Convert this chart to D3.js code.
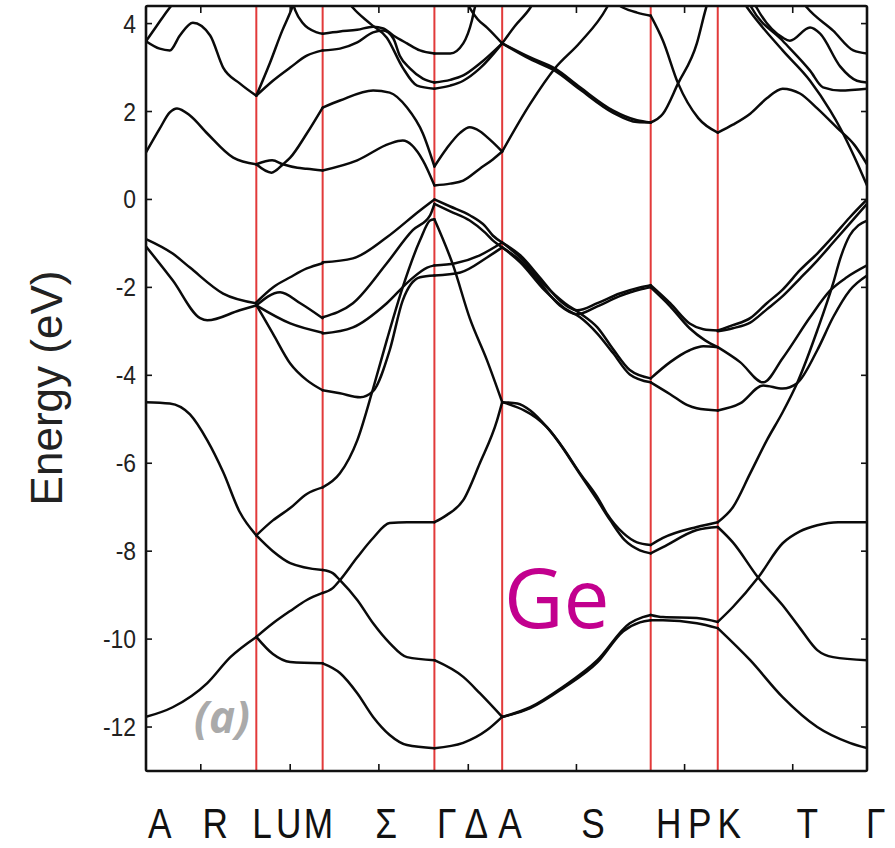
<!DOCTYPE html>
<html><head><meta charset="utf-8">
<script src="https://cdn.jsdelivr.net/npm/d3@7"></script>
<style>body{margin:0;background:#fff}svg{display:block}</style>
</head><body>
<script>
// high-symmetry path (k in path units 0..100)
const redK = [15.3, 24.5, 40.0, 49.4, 70.0, 79.3];          // L M Γ A H K
const tickK = [7.6, 20.0, 32.3, 44.7, 59.7, 74.7, 89.7];      // R U Σ Δ S P T
const pathLabels = ["A","R","L","U","M","Σ","Γ","Δ","A","S","H","P","K","T","Γ"];
const labelK = [1.9, 9.6, 16.1, 19.8, 23.9, 33.3, 41.7, 45.8, 50.5, 62.0, 72.5, 76.8, 80.9, 91.7, 101.2];
const yTicks = [-12,-10,-8,-6,-4,-2,0,2,4];

// bands, segment by segment: [k, E(eV)]
const segAL = [
  [[0,3.6],[1.5,3.95],[3,4.3],[4.5,4.6]],
  [[0,3.6],[1.9,3.43],[3.3,3.39],[4.7,3.73],[6.5,4.02],[8.9,3.73],[10.7,3.0],[13.0,2.64],[15.3,2.36]],
  [[0,1.07],[1.9,1.61],[3.3,1.98],[4.3,2.07],[6.1,1.91],[8.5,1.5],[12.1,0.95],[15.3,0.8]],
  [[0,-0.9],[3.7,-1.23],[6.1,-1.55],[10.7,-2.14],[15.3,-2.36]],
  [[0,-1.07],[3.7,-1.84],[7.5,-2.7],[8.5,-2.75],[13.0,-2.52],[15.3,-2.41]],
  [[0,-4.61],[3.3,-4.64],[6.1,-4.89],[8.5,-5.48],[10.7,-6.2],[13.0,-7.11],[15.3,-7.64]],
  [[0,-11.77],[3.7,-11.55],[8.5,-11.0],[11.7,-10.41],[15.3,-9.95]]
];
const segLM = [
  [[15.3,2.36],[17.2,3.11],[18.9,3.84],[20.0,4.25],[20.6,4.5]],
  [[20.3,4.5],[20.7,4.3],[21.8,4.0],[23.7,3.8],[24.5,3.77]],
  [[15.3,2.36],[17.6,2.7],[20.0,3.0],[22.3,3.27],[24.5,3.39]],
  [[15.3,0.8],[17.5,0.89],[19.0,0.8],[21.0,0.72],[22.3,0.7],[24.5,0.66]],
  [[15.3,0.8],[17.4,0.61],[19.0,0.8],[20.0,0.95],[22.3,1.5],[24.5,2.09]],
  [[15.3,-2.34],[17.6,-2.0],[20.0,-1.77],[22.3,-1.57],[24.5,-1.45]],
  [[15.3,-2.41],[18.6,-2.11],[21.4,-2.36],[24.5,-2.7]],
  [[15.3,-2.41],[20.0,-2.82],[24.5,-3.03]],
  [[15.3,-2.4],[17.6,-3.05],[20.0,-3.73],[22.3,-4.11],[24.5,-4.34]],
  [[15.3,-7.64],[17.6,-7.3],[20.0,-7.02],[22.3,-6.7],[24.5,-6.55]],
  [[15.3,-7.64],[17.6,-8.0],[20.0,-8.27],[24.5,-8.43]],
  [[15.3,-9.95],[17.6,-9.64],[20.0,-9.36],[22.3,-9.11],[24.5,-8.95]],
  [[15.3,-9.95],[17.6,-10.34],[20.0,-10.52],[24.5,-10.55]]
];
const segMG = [
  [[24.5,3.77],[26.9,3.82],[29.3,3.86],[31.5,3.93],[32.9,3.89],[34.3,3.73],[36.2,3.55],[38.0,3.39],[40.0,3.32]],
  [[24.5,3.39],[26.9,3.43],[29.3,3.57],[31.5,3.8],[32.9,3.84],[34.3,3.66],[35.2,3.27],[36.6,2.98],[38.4,2.75],[40.0,2.66]],
  [[27.8,4.55],[28.7,4.36],[31.1,4.0],[33.4,3.68],[35.6,3.0],[37.6,2.59],[40.0,2.52]],
  [[24.5,2.09],[26.9,2.25],[31.5,2.48],[33.8,2.43],[36.2,2.09],[38.4,1.5],[40.0,0.75]],
  [[24.5,0.66],[29.3,0.89],[33.8,1.27],[35.6,1.34],[38.4,0.89],[40.0,0.32]],
  [[24.5,-1.43],[28.7,-1.34],[33.4,-0.86],[38.0,-0.25],[40.0,0.0]],
  [[24.5,-2.68],[28.7,-2.36],[33.4,-1.45],[37.0,-0.7],[39.4,-0.36],[40.0,-0.1]],
  [[24.5,-3.05],[28.7,-2.91],[33.4,-2.36],[36.6,-1.84],[39.0,-1.55],[40.0,-1.5]],
  [[24.5,-4.34],[26.9,-4.41],[29.7,-4.5],[31.5,-4.36],[33.8,-3.43],[35.6,-2.3],[38.0,-1.77],[40.0,-1.73]],
  [[24.5,-6.55],[26.9,-6.23],[29.3,-5.48],[31.5,-4.3],[33.4,-3.2],[35.6,-2.0],[38.0,-0.93],[39.4,-0.48],[40.0,-0.45]],
  [[24.5,-8.43],[25.9,-8.5],[26.9,-8.66],[29.3,-9.11],[31.5,-9.64],[33.8,-10.09],[36.2,-10.41],[40.0,-10.48]],
  [[24.5,-8.95],[25.9,-8.84],[26.9,-8.66],[29.3,-8.14],[31.5,-7.7],[33.8,-7.36],[36.2,-7.34],[40.0,-7.34]],
  [[24.5,-10.55],[26.9,-10.77],[29.3,-11.23],[31.5,-11.77],[33.8,-12.18],[36.2,-12.41],[40.0,-12.48]]
];
const segGA = [
  [[40.0,3.32],[42.2,3.32],[44.0,3.55],[45.2,4.07],[45.6,4.36],[46.0,4.55]],
  [[44.3,4.55],[44.9,4.36],[46.0,4.1],[47.3,3.91],[49.4,3.55]],
  [[40.0,2.66],[42.2,2.72],[44.0,2.82],[46.3,3.09],[49.4,3.55]],
  [[40.0,2.52],[42.2,2.59],[44.0,2.7],[46.3,2.98],[49.4,3.55]],
  [[40.0,0.75],[41.7,1.16],[43.6,1.52],[44.9,1.64],[46.3,1.55],[47.7,1.36],[49.4,1.09]],
  [[40.0,0.32],[42.2,0.36],[44.0,0.43],[46.3,0.7],[48.1,0.91],[49.4,1.09]],
  [[40.0,0.0],[42.2,-0.16],[44.9,-0.36],[47.0,-0.6],[48.1,-0.82],[49.4,-0.98]],
  [[40.0,-0.1],[42.2,-0.27],[44.9,-0.48],[47.0,-0.75],[48.1,-0.93],[49.4,-1.09]],
  [[40.0,-1.5],[42.9,-1.45],[46.3,-1.27],[49.4,-0.98]],
  [[40.0,-1.73],[43.6,-1.66],[47.3,-1.32],[49.4,-1.09]],
  [[40.0,-0.45],[42.6,-1.5],[44.9,-2.7],[47.3,-3.66],[49.4,-4.61]],
  [[40.0,-7.34],[41.7,-7.18],[44.0,-6.84],[46.3,-6.0],[48.7,-5.02],[49.4,-4.61]],
  [[40.0,-10.48],[44.0,-10.86],[46.3,-11.23],[49.4,-11.77]],
  [[40.0,-12.48],[44.0,-12.36],[47.3,-12.07],[49.4,-11.77]]
];
const segAH = [
  [[49.4,3.55],[53.3,3.23],[56.7,2.98],[60.2,2.55],[64.8,2.02],[68.1,1.8],[70.0,1.75]],
  [[49.4,3.55],[53.3,3.19],[56.7,2.93],[60.2,2.5],[64.8,1.97],[68.1,1.76],[70.0,1.75]],
  [[49.4,3.55],[51.2,3.95],[53.3,4.36],[54.0,4.55]],
  [[49.4,1.09],[53.3,2.18],[56.7,2.98],[60.2,3.57],[63.9,4.36],[64.5,4.55]],
  [[64.5,4.55],[66.2,4.36],[68.1,4.25],[70.0,4.18]],
  [[49.4,-0.98],[51.9,-1.27],[54.6,-1.77],[57.4,-2.3],[59.8,-2.52],[62.6,-2.36],[65.7,-2.14],[68.5,-2.0],[70.0,-1.95]],
  [[49.4,-1.09],[51.9,-1.39],[54.6,-1.89],[57.4,-2.41],[59.8,-2.61],[62.6,-2.43],[65.7,-2.2],[68.5,-2.05],[70.0,-2.0]],
  [[49.4,-0.98],[51.9,-1.32],[55.3,-1.95],[58.1,-2.36],[60.2,-2.59],[62.6,-2.91],[64.8,-3.41],[67.1,-3.88],[70.0,-4.07]],
  [[49.4,-1.09],[51.9,-1.43],[55.3,-2.07],[58.1,-2.48],[60.2,-2.68],[62.6,-3.05],[64.8,-3.5],[67.1,-3.98],[70.0,-4.16]],
  [[49.4,-4.61],[51.5,-4.64],[53.3,-4.8],[55.6,-5.18],[57.8,-5.64],[60.2,-6.23],[62.6,-6.77],[63.9,-7.14],[66.2,-7.59],[68.1,-7.8],[70.0,-7.86]],
  [[49.4,-4.61],[55.6,-5.18],[60.2,-6.25],[62.6,-6.84],[64.4,-7.3],[66.4,-7.75],[68.5,-7.98],[70.0,-8.05]],
  [[49.4,-11.77],[53.3,-11.55],[57.8,-11.09],[62.6,-10.48],[67.1,-9.64],[68.9,-9.5],[70.0,-9.45]],
  [[49.4,-11.77],[53.3,-11.57],[57.8,-11.12],[62.6,-10.53],[66.2,-9.82],[68.5,-9.62],[70.0,-9.57]]
];
const segHK = [
  [[70.0,4.18],[71.7,3.61],[73.8,2.64],[76.6,1.85],[79.3,1.52]],
  [[70.0,1.75],[71.7,1.95],[73.8,2.64],[76.4,3.55],[77.5,4.25],[78.0,4.55]],
  [[70.0,-1.95],[72.7,-2.36],[75.4,-2.82],[77.3,-2.95],[79.3,-2.98]],
  [[70.0,-2.0],[72.7,-2.43],[75.4,-2.93],[77.5,-3.2],[79.3,-3.36]],
  [[70.0,-4.07],[72.7,-3.7],[75.4,-3.43],[77.3,-3.34],[79.3,-3.36]],
  [[70.0,-4.16],[72.7,-4.43],[75.1,-4.68],[76.4,-4.75],[79.3,-4.8]],
  [[70.0,-7.86],[71.7,-7.7],[76.4,-7.45],[79.3,-7.34]],
  [[70.0,-8.05],[71.7,-7.91],[76.4,-7.52],[79.3,-7.45]],
  [[70.0,-9.45],[71.7,-9.5],[76.4,-9.52],[79.3,-9.61]],
  [[70.0,-9.57],[71.7,-9.57],[76.4,-9.64],[79.3,-9.75]]
];
const segKG = [
  [[79.3,1.52],[81.4,1.7],[83.8,1.95],[86.1,2.3],[88.3,2.52],[90.7,2.41],[93.1,2.07],[95.9,1.62],[98.3,1.23],[100,0.8]],
  [[82.6,4.55],[83.4,4.36],[88.3,3.39],[92.1,2.7],[94.9,2.02],[96.3,1.62],[98.3,0.95],[100,0.32]],
  [[83.4,4.55],[84.0,4.36],[88.3,3.61],[92.1,2.93],[93.9,2.55],[96.3,2.48],[100,2.52]],
  [[84.1,4.55],[84.7,4.36],[88.3,3.68],[89.3,3.61],[92.1,3.91],[93.5,3.77],[96.3,3.02],[98.6,2.7],[100,2.66]],
  [[90.8,4.55],[91.7,4.36],[95.3,3.84],[98.1,3.39],[100,3.32]],
  [[79.3,-2.98],[81.4,-2.86],[83.8,-2.7],[86.1,-2.36],[88.3,-2.05],[90.7,-1.61],[93.1,-1.23],[95.3,-0.84],[97.6,-0.41],[100,0.0]],
  [[79.3,-3.0],[81.4,-2.93],[83.8,-2.8],[86.1,-2.5],[88.3,-2.2],[90.7,-1.8],[93.1,-1.39],[95.3,-0.98],[97.6,-0.55],[100,-0.1]],
  [[79.3,-3.36],[82.4,-3.7],[85.6,-4.16],[88.3,-3.61],[92.1,-2.68],[94.9,-2.07],[97.2,-1.77],[100,-1.5]],
  [[79.3,-4.8],[82.4,-4.64],[85.6,-4.23],[88.3,-4.3],[90.3,-4.18],[93.1,-3.43],[95.3,-2.68],[97.6,-2.07],[100,-1.73]],
  [[79.3,-7.34],[81.4,-7.0],[83.8,-6.23],[86.1,-5.48],[88.3,-4.84],[90.3,-4.18],[93.1,-2.98],[95.3,-1.91],[96.3,-1.34],[97.6,-0.82],[98.8,-0.59],[100,-0.48]],
  [[79.3,-7.45],[81.4,-7.8],[84.9,-8.6],[88.3,-9.23],[90.7,-9.75],[93.1,-10.25],[95.3,-10.41],[100,-10.48]],
  [[79.3,-9.61],[81.4,-9.27],[84.9,-8.6],[88.3,-7.82],[90.7,-7.55],[93.1,-7.41],[96.0,-7.34],[100,-7.34]],
  [[79.3,-9.75],[83.8,-10.48],[88.3,-11.32],[93.1,-12.0],[97.6,-12.36],[100,-12.48]]
];

(function(){
const W = 895, H = 848;
const pL = 146, pR = 867, pT = 6, pB = 771;
const x = d3.scaleLinear().domain([0,100]).range([pL,pR]);
const y = d3.scaleLinear().domain([-13,4.4]).range([pB,pT]);

const svg = d3.select("body").append("svg").attr("width",W).attr("height",H);
svg.append("defs").append("clipPath").attr("id","clip")
  .append("rect").attr("x",pL).attr("y",pT).attr("width",pR-pL).attr("height",pB-pT);

// red high-symmetry lines
svg.append("g").selectAll("line").data(redK).join("line")
  .attr("x1",d=>x(d)).attr("x2",d=>x(d)).attr("y1",pT).attr("y2",pB)
  .attr("stroke","#e23a3a").attr("stroke-width",2);

// bands
const line = d3.line().x(d=>x(d[0])).y(d=>y(d[1])).curve(d3.curveMonotoneX);
const all = [].concat(segAL,segLM,segMG,segGA,segAH,segHK,segKG);
svg.append("g").attr("clip-path","url(#clip)").selectAll("path").data(all).join("path")
  .attr("d",line).attr("fill","none").attr("stroke","#0a0a0a").attr("stroke-width",2.5)
  .attr("stroke-linejoin","round").attr("stroke-linecap","round");

// ticks (inward, both sides)
const g = svg.append("g").attr("stroke","#111").attr("stroke-width",1.6);
yTicks.forEach(t=>{
  g.append("line").attr("x1",pL).attr("x2",pL+6).attr("y1",y(t)).attr("y2",y(t));
  g.append("line").attr("x1",pR-6).attr("x2",pR).attr("y1",y(t)).attr("y2",y(t));
});
tickK.forEach(t=>{
  g.append("line").attr("x1",x(t)).attr("x2",x(t)).attr("y1",pB).attr("y2",pB-7);
  g.append("line").attr("x1",x(t)).attr("x2",x(t)).attr("y1",pT).attr("y2",pT+7);
});
// frame
svg.append("rect").attr("x",pL).attr("y",pT).attr("width",pR-pL).attr("height",pB-pT)
  .attr("fill","none").attr("stroke","#111").attr("stroke-width",2.6).attr("rx",1.5);

// y tick labels
svg.append("g").selectAll("text").data(yTicks).join("text")
  .attr("transform",d=>`translate(136,${y(d)+9}) scale(0.88,1)`)
  .attr("text-anchor","end").attr("font-family","'Liberation Sans', Arial, sans-serif")
  .attr("font-size",26).attr("fill","#222").text(d=>d);

// y axis title
svg.append("text").attr("transform",`translate(62,388) rotate(-90)`)
  .attr("text-anchor","middle").attr("font-family","'Liberation Sans', Arial, sans-serif")
  .attr("font-size",44).attr("fill","#222").text("Energy (eV)");

// k-path labels
svg.append("g").selectAll("text").data(pathLabels).join("text")
  .attr("transform",(d,i)=>`translate(${x(labelK[i])},838) scale(0.82,1)`)
  .attr("text-anchor","middle").attr("font-family","'Liberation Sans', Arial, sans-serif")
  .attr("font-size",43).attr("fill","#111").text(d=>d);

// annotations
svg.append("text").attr("x",222).attr("y",733).attr("text-anchor","middle")
  .attr("font-family","'Open Sans', sans-serif").attr("font-weight","bold").attr("font-style","italic")
  .attr("font-size",44).attr("fill","#aaaaaa").text("(a)");
svg.append("text").attr("x",504).attr("y",628)
  .attr("font-family","'Open Sans', sans-serif").attr("font-size",82).attr("fill","#c2008e").text("Ge");
})();
</script>
</body></html>
